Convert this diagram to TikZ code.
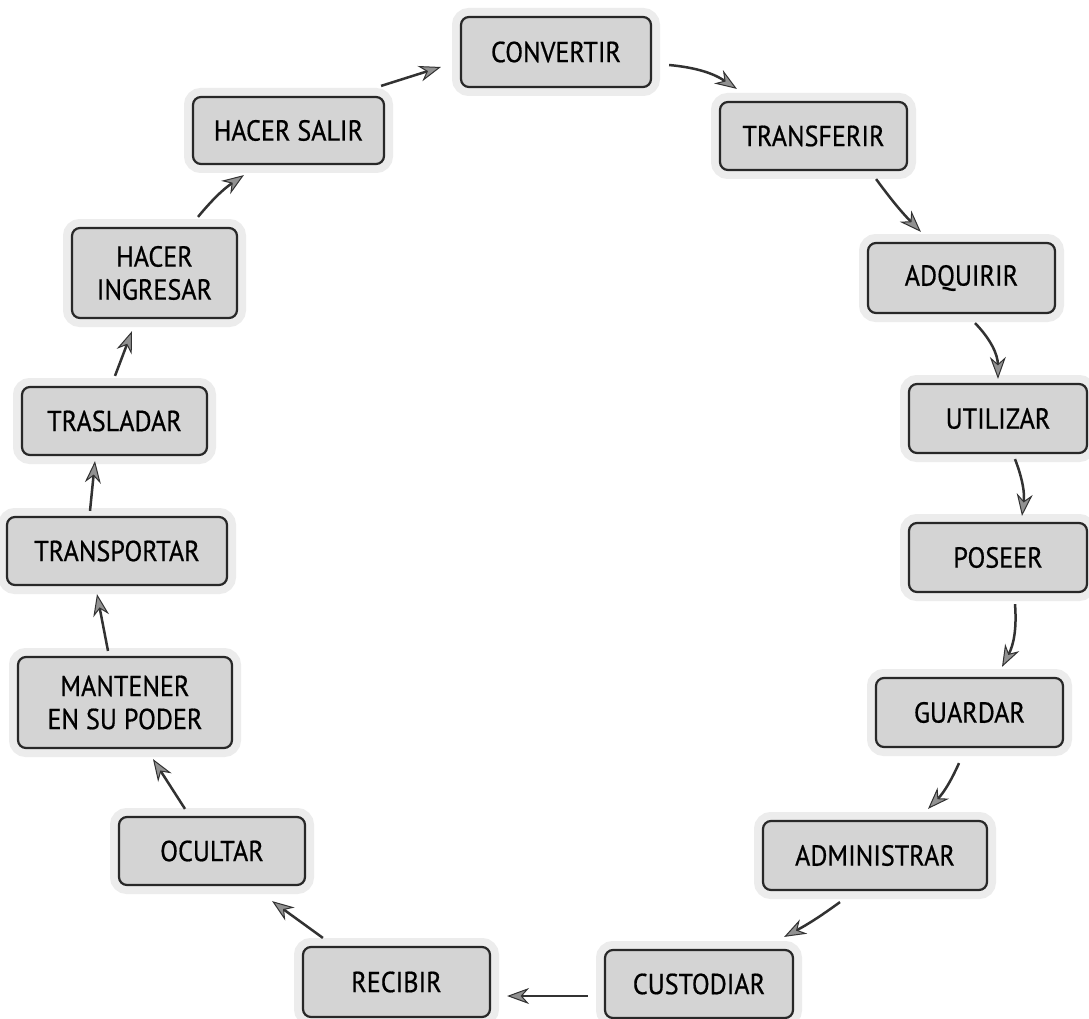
\documentclass[tikz,border=0pt]{standalone}
\usepackage{fontspec}
\setmainfont{PT Sans}[FakeStretch=0.9,FakeBold=0.6]
\usetikzlibrary{arrows.meta,calc}
\definecolor{boxfill}{RGB}{212,212,212}
\definecolor{halo}{RGB}{236,236,236}
\definecolor{edge}{RGB}{40,40,40}
\definecolor{arrline}{RGB}{50,50,50}
\definecolor{headfill}{RGB}{145,145,145}
\tikzset{
  box/.style={draw=edge, line width=2.2pt, fill=boxfill, rounded corners=8pt,
    inner sep=0pt, align=center, font=\fontsize{29}{33}\selectfont, text=black,
    preaction={draw=halo, line width=18pt}},
  arr/.style={draw=arrline, line width=2.5pt,
    -{Stealth[length=22pt,width=16pt,fill=headfill,color=arrline,line width=1pt]}}
}
\begin{document}
\begin{tikzpicture}[x=1pt,y=-1pt]
\fill[white] (0,0) rectangle (1089,1019);
\useasboundingbox (0,0) rectangle (1089,1019);

\node[box, minimum width=190pt, minimum height=70pt] (conv) at (556,52) {CONVERTIR};
\node[box, minimum width=187pt, minimum height=68pt] (transf) at (813.5,136) {TRANSFERIR};
\node[box, minimum width=187pt, minimum height=70pt] (adq) at (961.5,278) {ADQUIRIR};
\node[box, minimum width=178pt, minimum height=69pt] (util) at (998,418.5) {UTILIZAR};
\node[box, minimum width=178pt, minimum height=69pt] (pos) at (998,557.5) {POSEER};
\node[box, minimum width=187pt, minimum height=69pt] (guard) at (969.5,712.5) {GUARDAR};
\node[box, minimum width=224pt, minimum height=69pt] (admin) at (875,855.5) {ADMINISTRAR};
\node[box, minimum width=188pt, minimum height=68pt] (cust) at (699,984) {CUSTODIAR};
\node[box, minimum width=187pt, minimum height=70pt] (recib) at (396.5,982) {RECIBIR};
\node[box, minimum width=186pt, minimum height=68pt] (ocult) at (212,851) {OCULTAR};
\node[box, minimum width=214pt, minimum height=91pt] (mant) at (125,702.5) {MANTENER\\EN SU PODER};
\node[box, minimum width=220pt, minimum height=68pt] (transp) at (117,551) {TRANSPORTAR};
\node[box, minimum width=185pt, minimum height=68pt] (trasl) at (114.5,421) {TRASLADAR};
\node[box, minimum width=165pt, minimum height=90pt] (hi) at (154.5,273) {HACER\\INGRESAR};
\node[box, minimum width=191pt, minimum height=67pt] (hs) at (288.5,130.5) {HACER SALIR};

\draw[arr] ($(conv.east)+(17,13)$) to[bend left=14] ($(transf.north west)+(18,-12)$);
\draw[arr] ($(transf.south east)+(-32,8)$) to[bend right=4] ($(adq.north west)+(54,-10)$);
\draw[arr] ($(adq.south)+(13.5,9)$) to[bend left=22] ($(util.north)+(0,-4)$);
\draw[arr] ($(util.south)+(17,5)$) to[bend left=14] ($(pos.north)+(24,-6)$);
\draw[arr] ($(pos.south)+(17,11)$) to[bend left=16] ($(guard.north)+(32.5,-10)$);
\draw[arr] ($(guard.south)+(-10.5,15)$) to[bend left=10] ($(admin.north)+(53,-11)$);
\draw[arr] ($(admin.south)+(-35,11)$) to[bend left=4] ($(cust.north east)+(-10,-12)$);
\draw[arr] ($(cust.west)+(-16,12)$) -- ($(recib.east)+(16,14)$);
\draw[arr] ($(recib.north west)+(21,-8)$) -- ($(ocult.south east)+(-34,15)$);
\draw[arr] ($(ocult.north)+(-27,-7)$) -- ($(mant.south)+(28,10)$);
\draw[arr] ($(mant.north)+(-17,-5)$) -- ($(transp.south)+(-20,8)$);
\draw[arr] ($(transp.north)+(-27,-5)$) -- ($(trasl.south)+(-19.5,5)$);
\draw[arr] ($(trasl.north)+(0.5,-10)$) -- ($(hi.south)+(-22.5,12)$);
\draw[arr] ($(hi.north)+(43.5,-10)$) to[bend left=8] ($(hs.south west)+(52,10)$);
\draw[arr] ($(hs.north east)+(-4,-10)$) -- ($(conv.west)+(-19,15)$);
\end{tikzpicture}
\end{document}
